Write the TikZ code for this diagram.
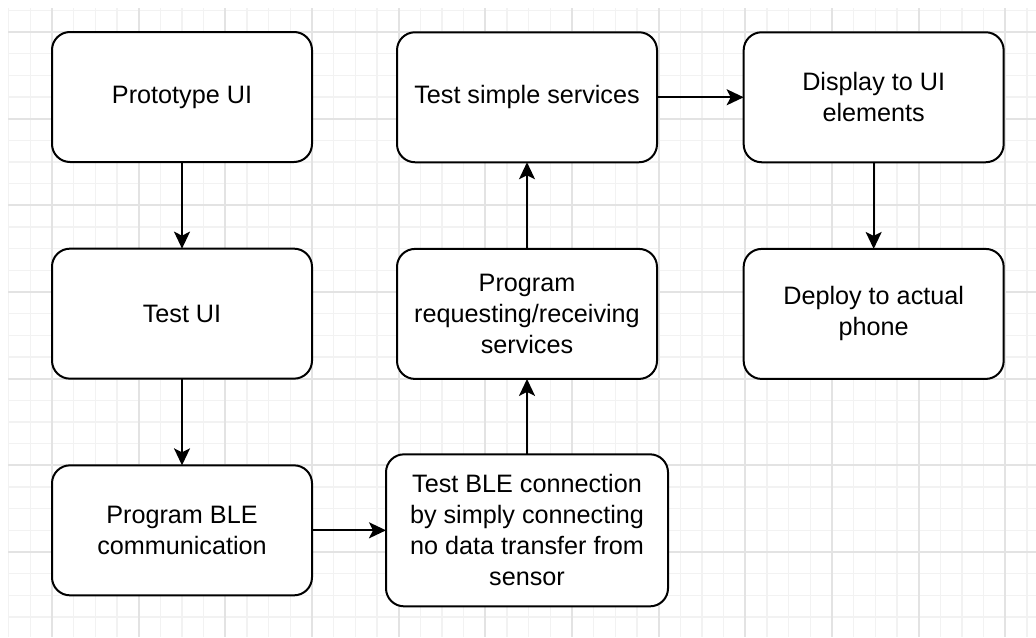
\documentclass[tikz,border=0pt]{standalone}
\usepackage{fontspec}
\setmainfont{Liberation Sans}
\usetikzlibrary{arrows.meta, positioning}

\definecolor{gridminor}{HTML}{F2F2F2}
\definecolor{gridmajor}{HTML}{E3E3E3}

\begin{document}
\begin{tikzpicture}[x=0.5pt, y=-0.5pt, >={Stealth[length=8.5pt, width=8pt, inset=2pt]}, node distance=43.33pt]
	\tikzstyle{task} = [draw, line width=1pt, rounded corners=9pt, fill=white, minimum width=130pt, minimum height=65pt, inner sep=0pt, outer sep=0pt, align=center, font=\fontsize{12.6}{15.5}\selectfont]
	\tikzstyle{wide task} = [task, minimum width=141pt, minimum height=76pt]
	\tikzstyle{minor} = [gridminor, line width=0.7pt]
	\tikzstyle{major} = [gridmajor, line width=0.9pt]

	\useasboundingbox (0,0) rectangle (1036,637);

	% grid
	\begin{scope}
		\clip (8,8) rectangle (1036,637);
		\foreach \k in {-2,...,45}
			\draw[minor] ({52+21.667*\k},0) -- ({52+21.667*\k},637);
		\foreach \k in {-1,...,28}
			\draw[minor] (0,{32+21.667*\k}) -- (1036,{32+21.667*\k});
		\foreach \k in {0,...,11}
			\draw[major] ({52+86.667*\k},0) -- ({52+86.667*\k},637);
		\foreach \k in {0,...,7}
			\draw[major] (0,{32+86.667*\k}) -- (1036,{32+86.667*\k});
	\end{scope}

	\path[->, line width=1pt]
		node[task] (1) at (182,97) {Prototype UI}
		node[task, below=of 1] (2) {Test UI}
		node[task, below=of 2] (3) {Program BLE\\communication}
		node[wide task, right=37pt of 3] (4) {Test BLE connection\\by simply connecting\\no data transfer from\\sensor}
		node[task, above=37.7pt of 4] (5) {Program\\requesting/receiving\\services}
		node[task, above=of 5] (6) {Test simple services}
		node[task, right=of 6] (7) {Display to UI\\elements}
		node[task, below=of 7] (8) {Deploy to actual\\phone}

		(1) edge (2)
		(2) edge (3)
		(3) edge (4)
		(4) edge (5)
		(5) edge (6)
		(6) edge (7)
		(7) edge (8)
	;
\end{tikzpicture}
\end{document}
